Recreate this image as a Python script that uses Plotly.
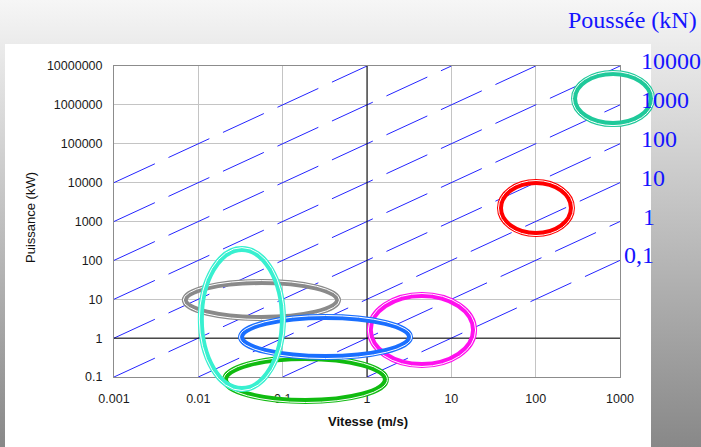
import base64
import math
import plotly.graph_objects as go

# ---------------- data ----------------
speed_ticks = [0.001, 0.01, 0.1, 1, 10, 100, 1000]
speed_tick_labels = ["0.001", "0.01", "0.1", "1", "10", "100", "1000"]
power_ticks = [0.1, 1, 10, 100, 1000, 1e4, 1e5, 1e6, 1e7]
power_tick_labels = ["0.1", "1", "10", "100", "1000", "10000", "100000", "1000000", "10000000"]

# constant-thrust lines (P[kW] = F[kN] * v[m/s])
thrust_lines_kN = [0.1, 1, 10, 100, 1000, 1e4, 1e5, 1e6, 1e7]
thrust_label_values = [10000, 1000, 100, 10, 1, 0.1]
thrust_label_texts = ["10000", "1000", "100", "10", "1", "0,1"]

# highlighted regions (speed range m/s, power range kW)
region_colors = ["#ff10ee", "#ff0000", "#1fc99a", "#8a8a8a", "#10bb10", "#1a6fff", "#38f0d0"]
region_speed_min = [1.11, 38.8, 293, 0.0071, 0.0213, 0.033, 0.0110]
region_speed_max = [18.1, 262, 2330, 0.441, 1.63, 3.15, 0.098]
region_power_min = [0.216, 505, 3.4e5, 3.49, 0.0256, 0.346, 0.052]
region_power_max = [12.1, 9770, 6.2e6, 26.1, 0.290, 3.29, 184]

X_RANGE = [-3, 3]
Y_RANGE = [-1, 7]

# ---------------- geometry ----------------
W, H = 701, 447
ML, MR, MT, MB = 114, 81, 66, 70
PW, PH = W - ML - MR, H - MT - MB


def pxx(px):
    return (px - ML) / PW


def pxy(py):
    return (H - MB - py) / PH


def data_to_paper_x(v):
    return (math.log10(v) - X_RANGE[0]) / (X_RANGE[1] - X_RANGE[0])


def data_to_paper_y(p):
    return (math.log10(p) - Y_RANGE[0]) / (Y_RANGE[1] - Y_RANGE[0])


fig = go.Figure()

# dashed constant-thrust lines
vmin, vmax = speed_ticks[0], speed_ticks[-1]
pmin, pmax = power_ticks[0], power_ticks[-1]
for F in thrust_lines_kN:
    v0 = max(vmin, pmin / F)
    v1 = min(vmax, pmax / F)
    fig.add_trace(go.Scatter(
        x=[v0, v1], y=[F * v0, F * v1], mode="lines",
        line=dict(color="#2424ff", width=1, dash="45px,15px"),
        hoverinfo="skip", showlegend=False))

shapes = []
# black axis lines crossing at 1
shapes.append(dict(type="line", xref="x", yref="y", x0=vmin, x1=vmax, y0=1, y1=1,
                   line=dict(color="#000000", width=1), layer="above"))
shapes.append(dict(type="line", xref="x", yref="y", x0=1, x1=1, y0=pmin, y1=pmax,
                   line=dict(color="#000000", width=1), layer="above"))
for v in speed_ticks:
    shapes.append(dict(type="line", xref="x", yref="y", x0=v, x1=v,
                       ysizemode="pixel", yanchor=1, y0=0, y1=-5,
                       line=dict(color="#000000", width=1), layer="above"))
for p in power_ticks:
    shapes.append(dict(type="line", xref="x", yref="y", y0=p, y1=p,
                       xsizemode="pixel", xanchor=1, x0=0, x1=-5,
                       line=dict(color="#000000", width=1), layer="above"))

# ellipses with double-line look
for col, a, b, c, d in zip(region_colors, region_speed_min, region_speed_max,
                           region_power_min, region_power_max):
    x0, x1 = data_to_paper_x(a), data_to_paper_x(b)
    y0, y1 = data_to_paper_y(c), data_to_paper_y(d)
    for off, wdt, clr in [(1.0, 6, col), (2.5, 1, "#ffffff")]:
        dx, dy = off / PW, off / PH
        shapes.append(dict(type="circle", xref="paper", yref="paper",
                           x0=x0 - dx, x1=x1 + dx, y0=y0 - dy, y1=y1 + dy,
                           line=dict(color=clr, width=wdt), fillcolor="rgba(0,0,0,0)",
                           layer="above"))

# background: gray gradient with white panel
svg = ('<svg xmlns="http://www.w3.org/2000/svg" width="701" height="447" viewBox="0 0 701 447" '
       'preserveAspectRatio="none"><defs><linearGradient id="g" x1="0" y1="0" x2="0" y2="1">'
       '<stop offset="0" stop-color="#f6f6f6"/><stop offset="1" stop-color="#888888"/>'
       '</linearGradient></defs><rect width="701" height="447" fill="url(#g)"/>'
       '<rect x="5" y="44" width="646" height="403" fill="#ffffff"/></svg>')
src = "data:image/svg+xml;base64," + base64.b64encode(svg.encode()).decode()
images = [dict(source=src, xref="paper", yref="paper", x=pxx(0), y=pxy(0),
               sizex=W / PW, sizey=H / PH, xanchor="left", yanchor="top",
               sizing="stretch", layer="below")]

annotations = []
blue = "#1414ff"
serif = "Liberation Serif, Times New Roman, serif"
for val, txt in zip(thrust_label_values, thrust_label_texts):
    xs = 19
    if txt == "0,1":
        xs = 2
    elif txt == "1":
        xs = 21
    annotations.append(dict(x=math.log10(vmax), y=math.log10(val * vmax), xref="x", yref="y",
                            text=txt, showarrow=False, xanchor="left", yanchor="middle",
                            xshift=xs, yshift=5, font=dict(family=serif, size=24, color=blue)))
annotations.append(dict(x=pxx(699), y=pxy(20), xref="paper", yref="paper", text="Poussée (kN)",
                        showarrow=False, xanchor="right", yanchor="middle",
                        font=dict(family=serif, size=24, color=blue)))
annotations.append(dict(x=pxx(368), y=pxy(421), xref="paper", yref="paper",
                        text="<b>Vitesse (m/s)</b>", showarrow=False,
                        xanchor="center", yanchor="middle",
                        font=dict(family="Liberation Sans, Arial", size=13, color="#111111")))
annotations.append(dict(x=pxx(30), y=pxy(218), xref="paper", yref="paper",
                        text="Puissance (kW)", showarrow=False, textangle=-90,
                        xanchor="center", yanchor="middle",
                        font=dict(family="Liberation Sans, Arial", size=13, color="#111111")))

axis_common = dict(showgrid=True, gridcolor="#c4c4c4", gridwidth=1,
                   showline=True, linecolor="#8c8c8c", linewidth=1, mirror=True,
                   zeroline=False, ticks="", fixedrange=True,
                   tickfont=dict(family="Liberation Sans, Arial", size=12.5, color="#1a1a1a"))

fig.update_layout(
    width=W, height=H,
    margin=dict(l=ML, r=MR, t=MT, b=MB, autoexpand=False),
    paper_bgcolor="#c8c8c8", plot_bgcolor="#ffffff",
    xaxis=dict(type="log", range=X_RANGE, tickmode="array", tickvals=speed_ticks,
               ticktext=speed_tick_labels, ticklabelstandoff=10, **axis_common),
    yaxis=dict(type="log", range=Y_RANGE, tickmode="array", tickvals=power_ticks,
               ticktext=power_tick_labels, ticklabelstandoff=8, **axis_common),
    shapes=shapes, images=images, annotations=annotations,
    showlegend=False, hovermode=False,
)

fig.write_html("out.html", config=dict(displayModeBar=False),
               post_script="document.body.style.margin='0';document.body.style.overflow='hidden';")
